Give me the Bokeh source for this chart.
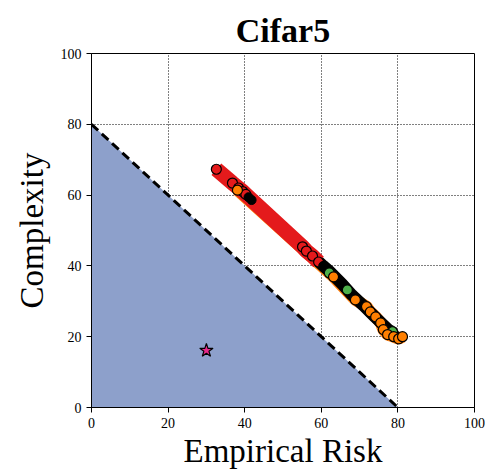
from bokeh.plotting import figure
from bokeh.models import Range1d, FixedTicker, Title
from bokeh.embed import file_html
from bokeh.resources import INLINE

# Per-run results: empirical risk vs complexity
red_x = [32.6, 36.8, 38.4, 39.5, 40.3, 55.1, 56.1, 57.7, 59.3]
red_y = [67.3, 63.4, 62.0, 61.0, 60.2, 45.4, 44.2, 42.8, 41.1]

orange_x = [38.1, 63.2, 68.9, 71.8, 72.8, 74.2, 75.5, 76.2, 77.3, 78.9, 80.2, 81.2]
orange_y = [61.4, 36.9, 30.4, 28.5, 27.0, 25.6, 23.9, 22.0, 20.6, 20.0, 19.4, 20.0]

black_x = [41.0, 41.8, 60.5, 62.0, 65.5, 68.0, 71.0, 74.0, 77.5, 79.0]
black_y = [59.4, 58.6, 40.0, 38.6, 34.8, 31.8, 28.8, 25.6, 22.0, 21.0]

green_x = [62.1, 66.8, 78.6]
green_y = [38.0, 33.2, 21.4]

star_x = [30.0]
star_y = [16.1]

# Feasible region bounded by risk + complexity = 80
bound_x = [0, 0, 80]
bound_y = [0, 80, 0]

ticks = [0, 20, 40, 60, 80, 100]

FONT = "Liberation Serif"

p = figure(width=485, height=471, output_backend="svg", toolbar_location=None,
           x_range=Range1d(0, 100), y_range=Range1d(0, 100),
           min_border_left=91, min_border_right=11, min_border_top=53, min_border_bottom=10)

p.add_layout(Title(text="Cifar5", text_font=FONT, text_font_size="34px",
                   text_font_style="bold", align="center", text_color="black",
                   standoff=9), "above")

p.patch(bound_x, bound_y, fill_color="#8da0cb", line_color=None)
p.line([0, 80], [80, 0], line_color="black", line_width=3, line_dash="9 5")

p.line(orange_x, orange_y, line_color="#ff7f0e", line_width=12)
p.line(green_x, green_y, line_color="#2ca02c", line_width=8)
p.line(black_x, black_y, line_color="black", line_width=12)
p.line(red_x, red_y, line_color="#e41a1c", line_width=15)

p.scatter(red_x, red_y, size=10, fill_color="#e41a1c", line_color="black", line_width=1.2)
p.scatter(black_x, black_y, size=9, fill_color="black", line_color="black", line_width=1.0)
p.scatter(green_x, green_y, size=10, fill_color="#4daf4a", line_color="black", line_width=1.2)
p.scatter(orange_x, orange_y, size=10, fill_color="#ff7f00", line_color="black", line_width=1.2)
p.scatter(star_x, star_y, marker="star", size=14, fill_color="#e7298a", line_color="black", line_width=1.2)

for ax in (p.xaxis[0], p.yaxis[0]):
    ax.ticker = FixedTicker(ticks=ticks)
    ax.minor_tick_line_color = None
    ax.major_tick_in = 0
    ax.major_tick_out = 5
    ax.major_tick_line_color = "black"
    ax.axis_line_color = "black"
    ax.major_label_text_font = FONT
    ax.major_label_text_font_size = "14px"
    ax.major_label_text_color = "black"
    ax.axis_label_text_font = FONT
    ax.axis_label_text_font_size = "33px"
    ax.axis_label_text_font_style = "normal"
    ax.axis_label_text_color = "black"

p.xaxis.axis_label = "Empirical Risk"
p.yaxis.axis_label = "Complexity"
p.xaxis.axis_label_standoff = 2
p.yaxis.axis_label_standoff = 8

p.grid.ticker = FixedTicker(ticks=[20, 40, 60, 80])
p.grid.grid_line_color = "black"
p.grid.grid_line_dash = "1 2"
p.grid.grid_line_width = 1

p.outline_line_color = "black"
p.outline_line_width = 1
p.background_fill_color = "white"
p.border_fill_color = "white"

open("out.html", "w").write(file_html(p, INLINE))
